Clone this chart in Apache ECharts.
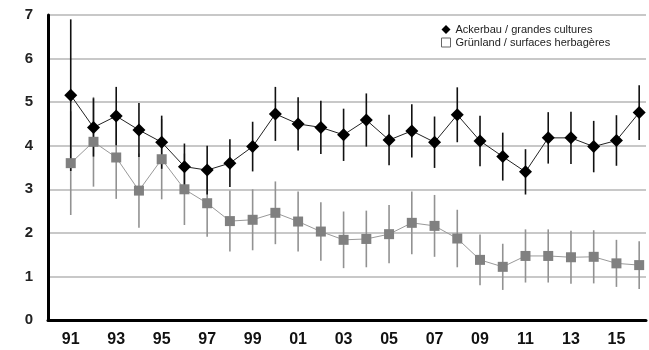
<!DOCTYPE html>
<html>
<head>
<meta charset="utf-8">
<script src="https://cdn.jsdelivr.net/npm/echarts@6/dist/echarts.min.js"></script>
<style>html,body{margin:0;padding:0;background:#fff;}#chart{width:649px;height:350px;}</style>
</head>
<body>
<div id="chart"></div>
<script>
var years = [1991,1992,1993,1994,1995,1996,1997,1998,1999,2000,2001,2002,2003,2004,2005,2006,2007,2008,2009,2010,2011,2012,2013,2014,2015,2016];
var tickLabels = ['91','93','95','97','99','01','03','05','07','09','11','13','15'];
var yTicks = [0,1,2,3,4,5,6,7];
var ackerbauName = 'Ackerbau / grandes cultures';
var gruenlandName = 'Grünland / surfaces herbagères';
var ackerbau = [5.16,4.42,4.68,4.36,4.08,3.52,3.44,3.60,3.98,4.73,4.50,4.42,4.25,4.59,4.13,4.34,4.08,4.71,4.11,3.75,3.40,4.18,4.18,3.98,4.12,4.76];
var ackerbauErr = [1.74,0.67,0.67,0.62,0.61,0.53,0.56,0.55,0.57,0.62,0.61,0.61,0.60,0.61,0.58,0.61,0.59,0.63,0.58,0.55,0.52,0.59,0.60,0.59,0.58,0.63];
var gruenland = [3.60,4.09,3.73,2.97,3.69,3.00,2.68,2.27,2.30,2.46,2.26,2.03,1.84,1.86,1.97,2.23,2.16,1.87,1.38,1.22,1.47,1.47,1.44,1.45,1.30,1.26];
var gruenlandErr = [1.19,1.03,0.95,0.85,0.92,0.82,0.77,0.70,0.70,0.72,0.69,0.67,0.65,0.65,0.67,0.72,0.71,0.66,0.58,0.53,0.61,0.61,0.61,0.61,0.54,0.55];

function pts(vals){ return years.map(function(y,i){ return [y, vals[i]]; }); }
function bars(vals, errs){ return years.map(function(y,i){ return [y, vals[i]-errs[i], vals[i]+errs[i]]; }); }
function errRender(color){
  return function(params, api){
    var p1 = api.coord([api.value(0), api.value(1)]);
    var p2 = api.coord([api.value(0), api.value(2)]);
    return {type:'line', shape:{x1:p1[0], y1:p1[1], x2:p2[0], y2:p2[1]}, style:{stroke:color, lineWidth:1.6}};
  };
}
var labelMap = {};
tickLabels.forEach(function(t){ var n = parseInt(t,10); labelMap[n < 50 ? 2000+n : 1900+n] = t; });

var chart = echarts.init(document.getElementById('chart'), null, {renderer:'canvas'});
chart.setOption({
  animation: false,
  backgroundColor: '#fff',
  grid: {left: 48, right: 0, top: 15, bottom: 30, containLabel: false},
  legend: {
    orient: 'vertical', left: 441, top: 24, padding: 0, itemGap: 2,
    itemWidth: 9, itemHeight: 9,
    textStyle: {fontFamily: 'Liberation Sans', fontSize: 11, color: '#222', lineHeight: 11},
    data: [
      {name: ackerbauName, icon: 'diamond', itemStyle: {color: '#000'}},
      {name: gruenlandName, icon: 'rect', itemStyle: {color: '#fff', borderColor: '#666', borderWidth: 1}}
    ]
  },
  xAxis: {
    type: 'value', min: 1990, max: 2016.3, interval: 1,
    axisLine: {show: true, onZero: false, lineStyle: {color: '#000', width: 3}},
    axisTick: {show: false},
    splitLine: {show: false},
    axisLabel: {
      margin: 12, fontFamily: 'Liberation Sans', fontSize: 16, fontWeight: 'bold', color: '#111',
      showMinLabel: true, showMaxLabel: true,
      formatter: function(v){ return labelMap[Math.round(v)] && Math.abs(v-Math.round(v))<1e-6 ? labelMap[Math.round(v)] : ''; }
    }
  },
  yAxis: {
    type: 'value', min: yTicks[0], max: yTicks[yTicks.length-1], interval: 1,
    axisLine: {show: true, lineStyle: {color: '#000', width: 3}},
    axisTick: {show: false},
    splitLine: {show: true, lineStyle: {color: '#c8c8c8', width: 2}},
    axisLabel: {margin: 15, fontFamily: 'Liberation Sans', fontSize: 15, fontWeight: 'bold', color: '#222'}
  },
  series: [
    {type: 'custom', name: gruenlandName + ' err', data: bars(gruenland, gruenlandErr), encode: {x: 0, y: [1,2]}, renderItem: errRender('#929292'), z: 1, silent: true},
    {type: 'custom', name: ackerbauName + ' err', data: bars(ackerbau, ackerbauErr), encode: {x: 0, y: [1,2]}, renderItem: errRender('#111'), z: 2, silent: true},
    {type: 'line', name: gruenlandName, data: pts(gruenland), symbol: 'rect', symbolSize: 10,
     itemStyle: {color: '#808080'}, lineStyle: {color: '#999', width: 1}, z: 3},
    {type: 'line', name: ackerbauName, data: pts(ackerbau), symbol: 'diamond', symbolSize: 13,
     itemStyle: {color: '#000'}, lineStyle: {color: '#222', width: 1}, z: 4}
  ]
});
</script>
</body>
</html>
